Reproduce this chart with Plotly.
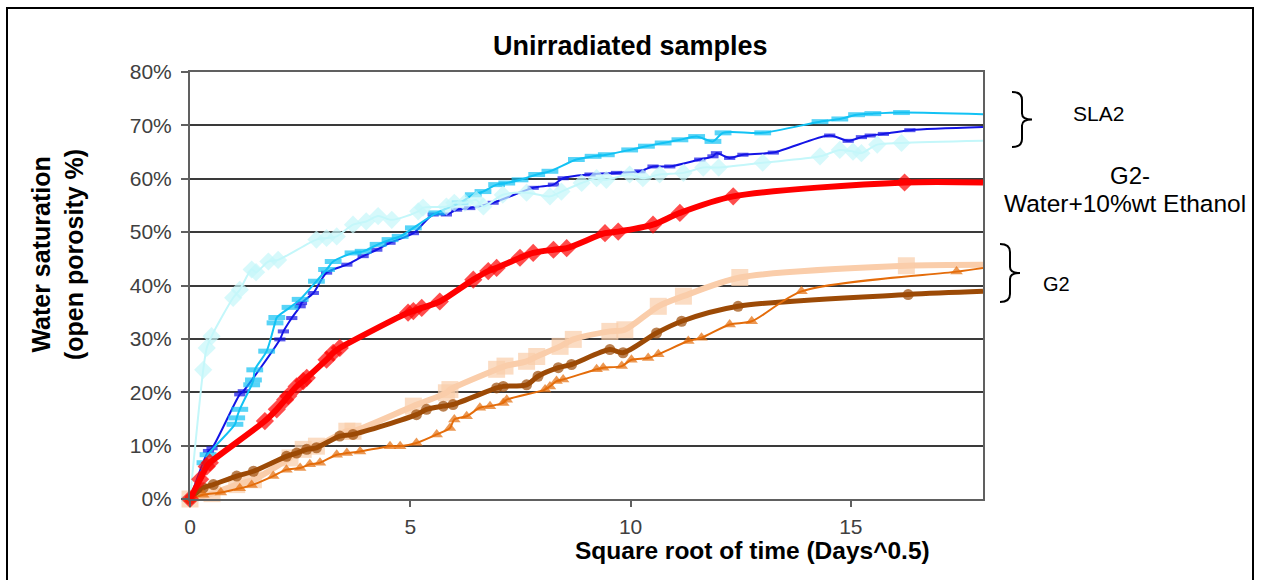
import plotly.graph_objects as go

# ---------------- data (x = sqrt(days), y = water saturation %) ----------------
sla2_a_x = [0, 0.42, 0.5, 1.13, 1.21, 2.04, 2.12, 2.31, 2.5, 2.53, 2.8, 3.1, 3.56, 3.93, 4.24, 4.54,
            5.07, 5.52, 5.82, 6.05, 6.35, 6.88, 7.79, 8.25, 8.47, 9.08, 9.68, 10.21, 10.51, 10.89,
            11.57, 11.87, 11.95, 12.25, 12.55, 13.24, 14.52, 14.94, 15.24, 15.44, 15.74, 16.34, 18.0]
sla2_a_y = [0, 9.0, 9.5, 19.6, 20.2, 29.9, 31.4, 33.9, 36.1, 36.7, 38.6, 42.4, 43.9, 45.5, 46.7, 48.0,
            49.8, 53.3, 53.3, 54.2, 54.5, 55.5, 58.3, 58.9, 60.1, 60.8, 61.1, 61.4, 62.3, 62.3,
            63.6, 64.2, 64.8, 63.9, 64.5, 64.9, 68.1, 67.1, 67.8, 68.1, 68.4, 69.1, 69.7]

sla2_b_x = [0, 0.34, 0.41, 1.02, 1.06, 1.13, 1.4, 1.44, 1.47, 1.74, 1.93, 1.97, 2.27, 2.5, 2.87, 3.1,
            3.25, 3.7, 3.93, 4.27, 4.54, 4.77, 5.07, 5.6, 6.13, 6.43, 6.65, 6.96, 7.19, 7.49, 7.87,
            8.17, 8.77, 9.15, 9.45, 9.98, 10.36, 10.74, 11.12, 11.5, 11.87, 12.1, 13.0, 14.3, 14.75,
            15.13, 15.5, 16.15, 18.0]
sla2_b_y = [0, 6.8, 8.3, 14.0, 15.2, 16.8, 21.4, 22.3, 24.2, 27.7, 33.0, 34.0, 35.9, 37.4, 40.8, 43.0,
            44.5, 46.1, 46.4, 47.7, 48.6, 49.2, 50.8, 53.6, 55.5, 57.0, 57.6, 58.9, 59.2, 59.8, 60.8,
            61.4, 63.6, 64.2, 64.5, 65.4, 66.1, 66.7, 67.3, 67.9, 67.0, 68.6, 68.6, 70.7, 71.2,
            72.0, 72.2, 72.4, 72.1]

sla2_c_x = [0, 0.3, 0.38, 0.49, 0.98, 1.13, 1.4, 1.5, 1.78, 2.0, 2.87, 3.1, 3.33, 3.7, 4.0, 4.27,
            4.58, 5.18, 5.29, 5.82, 6.0, 6.24, 6.5, 6.66, 7.1, 7.64, 8.17, 8.43, 8.89, 9.23, 9.45,
            9.98, 10.28, 10.66, 11.2, 11.65, 12.0, 13.0, 14.3, 14.75, 15.05, 15.24, 15.6, 16.15, 18.0]
sla2_c_y = [0, 24.2, 28.3, 30.5, 37.7, 39.2, 43.0, 42.5, 44.5, 44.8, 48.6, 48.9, 49.2, 51.4, 52.0, 53.0,
            52.3, 53.9, 54.6, 54.8, 55.5, 55.5, 56.0, 54.8, 57.0, 57.4, 56.7, 57.6, 59.2, 60.1, 59.8,
            60.8, 60.1, 60.8, 61.1, 62.1, 62.1, 63.0, 64.2, 65.4, 65.1, 64.8, 66.4, 66.7, 67.1]

eth_x = [0, 0.23, 0.38, 0.45, 1.7, 1.97, 2.16, 2.23, 2.42, 2.57, 2.65, 3.1, 3.25, 3.4, 4.95, 5.07,
         5.26, 5.67, 6.43, 6.77, 6.96, 7.49, 7.79, 8.25, 8.55, 9.42, 9.72, 10.51, 11.12, 12.33,
         16.22, 18.0]
eth_y = [0, 3.7, 6.1, 6.8, 14.6, 16.8, 18.6, 19.3, 21.1, 22.1, 22.7, 26.1, 27.4, 28.3, 34.9, 35.2,
         35.8, 37.0, 41.1, 42.7, 43.3, 45.2, 46.1, 46.7, 47.0, 49.8, 50.1, 51.4, 53.6, 56.7,
         59.3, 59.3]

g2_a_x = [0, 0.5, 1.06, 1.44, 2.27, 2.57, 2.87, 3.56, 3.7, 5.07, 5.82, 5.9, 6.96, 7.15, 7.64, 7.87,
          8.4, 8.7, 9.53, 9.87, 10.63, 11.2, 12.48, 16.26, 18.0]
g2_a_y = [0, 1.0, 2.7, 3.6, 7.7, 9.3, 9.9, 12.7, 12.7, 17.4, 19.9, 20.5, 24.3, 24.9, 25.8, 26.7,
          28.6, 29.9, 31.4, 31.7, 36.1, 38.0, 41.5, 43.7, 43.9]

g2_b_x = [0, 0.3, 0.53, 1.06, 1.44, 2.19, 2.42, 2.65, 2.87, 3.4, 3.7, 5.14, 5.37, 5.75, 5.97, 6.96,
          7.11, 7.64, 7.9, 8.36, 8.66, 9.53, 9.83, 10.59, 11.16, 12.44, 16.3, 18.0]
g2_b_y = [0, 2.1, 2.7, 4.3, 5.2, 8.0, 8.6, 9.3, 9.6, 11.8, 12.1, 15.8, 16.8, 17.4, 17.7, 20.8,
          21.1, 21.4, 23.0, 24.6, 25.2, 28.0, 27.4, 31.1, 33.3, 36.1, 38.3, 38.9]

g2_c_x = [0, 0.3, 0.7, 1.13, 1.4, 1.89, 2.19, 2.5, 2.72, 2.95, 3.33, 3.56, 3.86, 4.54, 4.77, 5.14,
          5.6, 5.9, 6.0, 6.28, 6.58, 6.81, 7.11, 7.19, 8.06, 8.17, 8.32, 8.47, 9.23, 9.38, 9.8,
          10.02, 10.4, 10.63, 11.31, 11.61, 12.25, 12.75, 13.88, 17.4, 18.0]
g2_c_y = [0, 0.8, 1.2, 2.0, 2.6, 4.3, 5.5, 5.8, 6.5, 6.8, 8.3, 8.6, 8.9, 9.9, 9.9, 10.5,
          12.1, 13.3, 14.9, 15.5, 17.1, 17.4, 18.0, 18.6, 20.5, 21.1, 22.1, 22.4, 24.3, 24.6, 24.9,
          26.1, 26.4, 27.1, 29.6, 30.2, 32.7, 33.3, 38.9, 42.6, 43.3]

y_ticks = [0, 10, 20, 30, 40, 50, 60, 70, 80]
x_ticks = [0, 5, 10, 15]

title_text = "Unirradiated samples"
x_title = "Square root of time (Days^0.5)"
y_title = "Water saturation<br>(open porosity %)"

# ---------------- layout geometry ----------------
W, H = 1264, 580
L, R, T, B = 190, 983, 72, 499
FONT = "Liberation Sans, Arial, sans-serif"


def px(xp):
    return (xp - L) / (R - L)


def py(yp):
    return (B - yp) / (B - T)


def sizes(n, s):
    # hide marker on the final edge point
    return [s] * (n - 1) + [0]


fig = go.Figure()


def add(xs, ys, color, lw, symbol, msize, mline=0, mcolor=None):
    marker = dict(symbol=symbol, size=sizes(len(xs), msize), color=mcolor or color,
                  line=dict(width=mline, color=color))
    fig.add_trace(go.Scatter(x=xs, y=ys, mode="lines+markers",
                             line=dict(color=color, width=lw, shape="spline", smoothing=0.8),
                             marker=marker, cliponaxis=False, showlegend=False,
                             hoverinfo="x+y"))


add(sla2_a_x, sla2_a_y, "#1414E6", 2, "line-ew", 8, mline=4)
add(sla2_b_x, sla2_b_y, "#12C2F4", 2, "line-ew", 12, mline=5)
add(sla2_c_x, sla2_c_y, "#C4F7FA", 2, "diamond", 14)
add(g2_a_x, g2_a_y, "#FACDAA", 6, "square", 17)
add(g2_b_x, g2_b_y, "#9C4A06", 5, "circle", 11)
add(g2_c_x, g2_c_y, "#E46C0A", 2, "triangle-up", 11)
add(eth_x, eth_y, "#FF0000", 6, "diamond", 14)

axis_common = dict(showline=True, linecolor="#606060", linewidth=2, mirror=True,
                   ticks="outside", tickcolor="#606060", tickwidth=1.5,
                   tickfont=dict(family=FONT, size=21, color="#404040"),
                   zeroline=False, automargin=False)

fig.update_xaxes(range=[0, 18], tickvals=x_ticks, ticktext=[str(v) for v in x_ticks],
                 showgrid=False, ticklen=6, ticklabelstandoff=2, **axis_common)
fig.update_yaxes(range=[0, 80], tickvals=y_ticks, ticktext=[f"{v}%" for v in y_ticks],
                 showgrid=True, gridcolor="#3a3a3a", gridwidth=1.5, ticklen=7,
                 ticklabelstandoff=5, **axis_common)

annotations = [
    dict(text=f"<b>{title_text}</b>", x=px(630), y=py(46), font=dict(size=27, color="#000")),
    dict(text=f"<b>{x_title}</b>", x=px(752), y=py(550), font=dict(size=24.5, color="#000")),
    dict(text=f"<b>{y_title}</b>", x=px(57), y=py(255), textangle=-90,
         font=dict(size=25, color="#000")),
    dict(text="SLA2", x=px(1098), y=py(113), font=dict(size=21, color="#000")),
    dict(text="G2-", x=px(1130), y=py(175), font=dict(size=24, color="#000")),
    dict(text="Water+10%wt Ethanol", x=px(1125), y=py(203), font=dict(size=24.5, color="#000")),
    dict(text="G2", x=px(1056), y=py(284), font=dict(size=20, color="#000")),
]
for a in annotations:
    a.update(xref="paper", yref="paper", showarrow=False, xanchor="center", yanchor="middle")
    a["font"]["family"] = FONT


def brace(x0, y0, y1, depth):
    ym = (y0 + y1) / 2
    xm = x0 + depth / 2
    pts = [
        f"M {px(x0)},{py(y0)}",
        f"Q {px(xm)},{py(y0)} {px(xm)},{py(y0 + 8)}",
        f"L {px(xm)},{py(ym - 6)}",
        f"Q {px(xm)},{py(ym)} {px(x0 + depth)},{py(ym)}",
        f"Q {px(xm)},{py(ym)} {px(xm)},{py(ym + 6)}",
        f"L {px(xm)},{py(y1 - 8)}",
        f"Q {px(xm)},{py(y1)} {px(x0)},{py(y1)}",
    ]
    return dict(type="path", path=" ".join(pts), xref="paper", yref="paper",
                line=dict(color="#000", width=2))


shapes = [
    dict(type="rect", xref="paper", yref="paper", x0=px(7), x1=px(1253), y0=py(620), y1=py(8),
         line=dict(color="#000", width=2)),
    brace(1012, 92, 147, 20),
    brace(1000, 244, 302, 20),
]

fig.update_layout(width=W, height=H, margin=dict(l=L, r=W - R, t=T, b=H - B),
                  paper_bgcolor="white", plot_bgcolor="white",
                  annotations=annotations, shapes=shapes,
                  font=dict(family=FONT))

fig.write_html("out.html")
